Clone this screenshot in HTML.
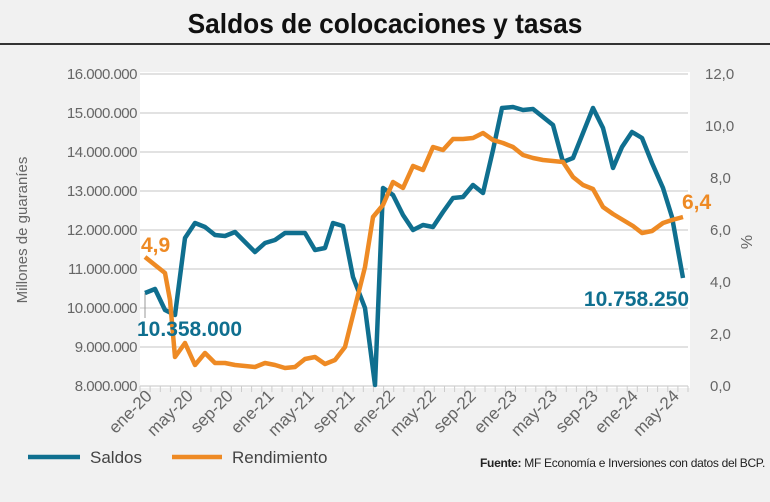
<!DOCTYPE html>
<html><head><meta charset="utf-8"><style>
body{margin:0;background:#f1f1f1;}
svg{display:block;font-family:"Liberation Sans",sans-serif;}
</style></head><body>
<svg width="770" height="502" viewBox="0 0 770 502">
<rect width="770" height="502" fill="#f1f1f1"/>
<text x="385" y="33" text-anchor="middle" font-size="28" font-weight="bold" fill="#111" transform="translate(385,0) scale(0.84,1) translate(-385,0)" textLength="470" lengthAdjust="spacingAndGlyphs">Saldos de colocaciones y tasas</text>
<rect x="0" y="43" width="770" height="2" fill="#333"/>
<rect x="140" y="72" width="550" height="316" fill="#fff"/>
<g stroke="#d0d0d0" stroke-width="1.3">
<line x1="140" x2="688" y1="74" y2="74"/><line x1="140" x2="688" y1="113" y2="113"/>
<line x1="140" x2="688" y1="152" y2="152"/><line x1="140" x2="688" y1="191" y2="191"/>
<line x1="140" x2="688" y1="230" y2="230"/><line x1="140" x2="688" y1="269" y2="269"/>
<line x1="140" x2="688" y1="308" y2="308"/><line x1="140" x2="688" y1="347" y2="347"/>
<line x1="140" x2="688" y1="386" y2="386"/>
</g>
<path d="M140 386V392M150.1 386V392M160.3 386V392M170.4 386V392M180.6 386V392M190.7 386V392M200.9 386V392M211 386V392M221.2 386V392M231.3 386V392M241.5 386V392M251.6 386V392M261.8 386V392M271.9 386V392M282.1 386V392M292.2 386V392M302.4 386V392M312.5 386V392M322.7 386V392M332.8 386V392M343 386V392M353.1 386V392M363.3 386V392M373.4 386V392M383.6 386V392M393.7 386V392M403.9 386V392M414 386V392M424.2 386V392M434.3 386V392M444.5 386V392M454.6 386V392M464.8 386V392M474.9 386V392M485.1 386V392M495.2 386V392M505.4 386V392M515.5 386V392M525.7 386V392M535.8 386V392M546 386V392M556.1 386V392M566.3 386V392M576.4 386V392M586.6 386V392M596.7 386V392M606.9 386V392M617 386V392M627.2 386V392M637.3 386V392M647.5 386V392M657.6 386V392M667.8 386V392M677.9 386V392M688 386V392" stroke="#ccc" stroke-width="1"/>
<g fill="#666" font-size="15" text-anchor="end" letter-spacing="-0.5">
<text x="137" y="79">16.000.000</text><text x="137" y="118">15.000.000</text>
<text x="137" y="157">14.000.000</text><text x="137" y="196">13.000.000</text>
<text x="137" y="235">12.000.000</text><text x="137" y="274">11.000.000</text>
<text x="137" y="313">10.000.000</text><text x="137" y="352">9.000.000</text>
<text x="137" y="391">8.000.000</text>
</g>
<g fill="#666" font-size="15">
<text x="705" y="79">12,0</text><text x="705" y="131">10,0</text>
<text x="710" y="183">8,0</text><text x="710" y="235">6,0</text>
<text x="710" y="287">4,0</text><text x="710" y="339">2,0</text>
<text x="710" y="391">0,0</text>
</g>
<text transform="translate(27,230) rotate(-90)" text-anchor="middle" font-size="15" fill="#666">Millones de guaraníes</text>
<text transform="translate(752,242) rotate(-90)" text-anchor="middle" font-size="16" fill="#666">%</text>
<g fill="#666" font-size="17" text-anchor="end">
<text transform="translate(153,397) rotate(-45)">ene-20</text>
<text transform="translate(194,397) rotate(-45)">may-20</text>
<text transform="translate(234,397) rotate(-45)">sep-20</text>
<text transform="translate(275,397) rotate(-45)">ene-21</text>
<text transform="translate(315,397) rotate(-45)">may-21</text>
<text transform="translate(356,397) rotate(-45)">sep-21</text>
<text transform="translate(396,397) rotate(-45)">ene-22</text>
<text transform="translate(437,397) rotate(-45)">may-22</text>
<text transform="translate(477,397) rotate(-45)">sep-22</text>
<text transform="translate(518,397) rotate(-45)">ene-23</text>
<text transform="translate(558,397) rotate(-45)">may-23</text>
<text transform="translate(599,397) rotate(-45)">sep-23</text>
<text transform="translate(639,397) rotate(-45)">ene-24</text>
<text transform="translate(680,397) rotate(-45)">may-24</text>
</g>
<line x1="145" y1="293" x2="145" y2="318" stroke="#999" stroke-width="1"/>
<polyline fill="none" stroke="#0f6f8f" stroke-width="4.5" stroke-linejoin="round" points="145,293 155,289 165,310 175,315 185,238 195,223 205,227 215,235 225,236 235,232 245,242 255,252 265,243 275,240 285,233 295,233 305,233 315,250 325,248 333,223 343,226 353,277 365,308 375,385 383,188 393,195 403,215 413,230 423,225 433,227 443,212 453,198 463,197 473,185 483,193 493,150 502,108 513,107 523,110 533,109 543,117 553,125 563,162 573,158 583,133 593,108 603,128 613,168 622,147 632,132 642,138 652,163 663,188 672,217 683,278"/>
<polyline fill="none" stroke="#ee8a24" stroke-width="4.5" stroke-linejoin="round" points="145,257 155,265 165,273 170,300 175,357 185,343 195,365 205,353 215,363 225,363 235,365 245,366 255,367 265,363 275,365 285,368 295,367 305,359 315,357 325,364 335,360 345,347 355,307 365,267 373,217 383,205 393,182 403,188 413,166 423,170 433,147 443,150 453,139 463,139 473,138 483,133 493,140 503,143 513,147 523,155 533,158 543,160 553,161 563,162 573,177 583,185 593,189 603,207 613,214 623,220 633,226 642,233 652,231 663,223 672,220 683,217"/>
<text x="141" y="252" font-size="21" font-weight="bold" fill="#ee8a24">4,9</text>
<text x="137" y="336" font-size="21" font-weight="bold" fill="#0f6f8f">10.358.000</text>
<text x="682" y="209" font-size="21" font-weight="bold" fill="#ee8a24">6,4</text>
<text x="689" y="306" font-size="21" font-weight="bold" fill="#0f6f8f" text-anchor="end">10.758.250</text>
<line x1="28" y1="457" x2="80" y2="457" stroke="#0f6f8f" stroke-width="4.5"/>
<text x="90" y="463" font-size="17" fill="#444">Saldos</text>
<line x1="172" y1="457" x2="222" y2="457" stroke="#ee8a24" stroke-width="4.5"/>
<text x="232" y="463" font-size="17" fill="#444">Rendimiento</text>
<text x="765" y="467" font-size="12" fill="#222" text-anchor="end" letter-spacing="-0.3"><tspan font-weight="bold">Fuente:</tspan> MF Economía e Inversiones con datos del BCP.</text>
</svg>
</body></html>
